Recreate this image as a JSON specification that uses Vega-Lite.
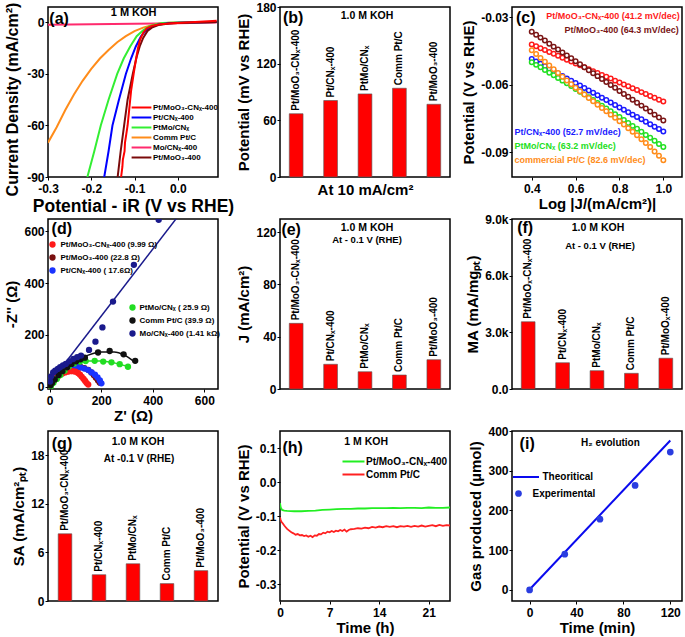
{
"$schema":"https://vega.github.io/schema/vega-lite/v6.json",
"padding":{"left":3,"top":0,"right":0,"bottom":0},
"columns":3,
"spacing":{"row":42,"column":62},
"bounds":"flush",
"resolve":{"scale":{"x":"independent","y":"independent","color":"independent","fill":"independent","stroke":"independent"},"legend":{"color":"independent","fill":"independent","stroke":"independent"}},
"config":{
 "font":"Liberation Sans",
 "locale":{"number":{"decimal":".","thousands":",","grouping":[3],"currency":["$",""],"minus":"-"}},
 "view":{"stroke":"#000","strokeWidth":1.5},
 "axis":{"domain":false,"grid":false,"labelFont":"Liberation Sans","labelFontWeight":"bold","labelFontSize":12,"labelColor":"#000","titleFont":"Liberation Sans","titleFontSize":15,"titleFontWeight":"bold","titleColor":"#000","tickColor":"#000","tickSize":3,"tickWidth":1,"labelPadding":1,"titlePadding":4,"labelFlush":false,"labelOverlap":false},
 "axisX":{"labelPadding":3},
 "legend":{"labelFont":"Liberation Sans","labelFontWeight":"bold","labelColor":"#000","padding":0,"titlePadding":0},
 "text":{"font":"Liberation Sans","fontWeight":"bold","color":"#000"}
},
"concat":[
{
 "width":170,"height":170,
 "layer":[
  {"data":{"values":[
   {"s":"Mo/CNₓ-400","v":-0.3,"j":-1.3},{"s":"Mo/CNₓ-400","v":-0.2,"j":-1.0},{"s":"Mo/CNₓ-400","v":-0.1,"j":-0.7},{"s":"Mo/CNₓ-400","v":0.0,"j":-0.4},{"s":"Mo/CNₓ-400","v":0.09,"j":0.0},
   {"s":"Comm Pt/C","v":-0.3,"j":-70},{"s":"Comm Pt/C","v":-0.28,"j":-61},{"s":"Comm Pt/C","v":-0.26,"j":-51},{"s":"Comm Pt/C","v":-0.24,"j":-42},{"s":"Comm Pt/C","v":-0.22,"j":-34},{"s":"Comm Pt/C","v":-0.2,"j":-27},{"s":"Comm Pt/C","v":-0.18,"j":-21},{"s":"Comm Pt/C","v":-0.16,"j":-16},{"s":"Comm Pt/C","v":-0.14,"j":-11.5},{"s":"Comm Pt/C","v":-0.12,"j":-8},{"s":"Comm Pt/C","v":-0.1,"j":-5},{"s":"Comm Pt/C","v":-0.08,"j":-3},{"s":"Comm Pt/C","v":-0.06,"j":-1.6},{"s":"Comm Pt/C","v":-0.04,"j":-0.6},{"s":"Comm Pt/C","v":-0.02,"j":-0.2},{"s":"Comm Pt/C","v":0.0,"j":0},{"s":"Comm Pt/C","v":0.09,"j":0.2},
   {"s":"PtMo/CNₓ","v":-0.209,"j":-90},{"s":"PtMo/CNₓ","v":-0.193,"j":-75},{"s":"PtMo/CNₓ","v":-0.178,"j":-60},{"s":"PtMo/CNₓ","v":-0.16,"j":-45},{"s":"PtMo/CNₓ","v":-0.14,"j":-30},{"s":"PtMo/CNₓ","v":-0.125,"j":-21},{"s":"PtMo/CNₓ","v":-0.11,"j":-14},{"s":"PtMo/CNₓ","v":-0.095,"j":-8},{"s":"PtMo/CNₓ","v":-0.08,"j":-4.5},{"s":"PtMo/CNₓ","v":-0.065,"j":-2.2},{"s":"PtMo/CNₓ","v":-0.05,"j":-1},{"s":"PtMo/CNₓ","v":-0.035,"j":-0.3},{"s":"PtMo/CNₓ","v":0.0,"j":0},{"s":"PtMo/CNₓ","v":0.09,"j":0.3},
   {"s":"Pt/CNₓ-400","v":-0.17,"j":-90},{"s":"Pt/CNₓ-400","v":-0.16,"j":-75},{"s":"Pt/CNₓ-400","v":-0.151,"j":-60},{"s":"Pt/CNₓ-400","v":-0.136,"j":-45},{"s":"Pt/CNₓ-400","v":-0.12,"j":-30},{"s":"Pt/CNₓ-400","v":-0.108,"j":-21},{"s":"Pt/CNₓ-400","v":-0.097,"j":-14},{"s":"Pt/CNₓ-400","v":-0.085,"j":-8},{"s":"Pt/CNₓ-400","v":-0.073,"j":-4.5},{"s":"Pt/CNₓ-400","v":-0.06,"j":-2.5},{"s":"Pt/CNₓ-400","v":-0.045,"j":-1.2},{"s":"Pt/CNₓ-400","v":-0.02,"j":-0.5},{"s":"Pt/CNₓ-400","v":0.0,"j":-0.2},{"s":"Pt/CNₓ-400","v":0.09,"j":0.3},
   {"s":"Pt/MoO₃-400","v":-0.139,"j":-90},{"s":"Pt/MoO₃-400","v":-0.132,"j":-75},{"s":"Pt/MoO₃-400","v":-0.124,"j":-60},{"s":"Pt/MoO₃-400","v":-0.116,"j":-45},{"s":"Pt/MoO₃-400","v":-0.104,"j":-30},{"s":"Pt/MoO₃-400","v":-0.095,"j":-20},{"s":"Pt/MoO₃-400","v":-0.088,"j":-14},{"s":"Pt/MoO₃-400","v":-0.08,"j":-9},{"s":"Pt/MoO₃-400","v":-0.07,"j":-5},{"s":"Pt/MoO₃-400","v":-0.06,"j":-3},{"s":"Pt/MoO₃-400","v":-0.045,"j":-1.5},{"s":"Pt/MoO₃-400","v":-0.02,"j":-0.6},{"s":"Pt/MoO₃-400","v":0.0,"j":-0.3},{"s":"Pt/MoO₃-400","v":0.09,"j":0.3},
   {"s":"Pt/MoO₃-CNₓ-400","v":-0.131,"j":-90},{"s":"Pt/MoO₃-CNₓ-400","v":-0.128,"j":-84},{"s":"Pt/MoO₃-CNₓ-400","v":-0.127,"j":-80},{"s":"Pt/MoO₃-CNₓ-400","v":-0.123,"j":-75},{"s":"Pt/MoO₃-CNₓ-400","v":-0.122,"j":-70},{"s":"Pt/MoO₃-CNₓ-400","v":-0.119,"j":-65},{"s":"Pt/MoO₃-CNₓ-400","v":-0.116,"j":-60},{"s":"Pt/MoO₃-CNₓ-400","v":-0.112,"j":-50},{"s":"Pt/MoO₃-CNₓ-400","v":-0.108,"j":-40},{"s":"Pt/MoO₃-CNₓ-400","v":-0.102,"j":-30},{"s":"Pt/MoO₃-CNₓ-400","v":-0.097,"j":-22},{"s":"Pt/MoO₃-CNₓ-400","v":-0.092,"j":-15},{"s":"Pt/MoO₃-CNₓ-400","v":-0.087,"j":-10},{"s":"Pt/MoO₃-CNₓ-400","v":-0.08,"j":-6},{"s":"Pt/MoO₃-CNₓ-400","v":-0.072,"j":-3.5},{"s":"Pt/MoO₃-CNₓ-400","v":-0.06,"j":-2},{"s":"Pt/MoO₃-CNₓ-400","v":-0.045,"j":-1.2},{"s":"Pt/MoO₃-CNₓ-400","v":-0.02,"j":-0.6},{"s":"Pt/MoO₃-CNₓ-400","v":0.0,"j":-0.3},{"s":"Pt/MoO₃-CNₓ-400","v":0.09,"j":1}
  ]},
  "mark":{"type":"line","strokeWidth":2,"clip":true},
  "encoding":{
   "x":{"field":"v","type":"quantitative","scale":{"domain":[-0.3,0.093],"nice":false,"zero":false},"axis":{"values":[-0.3,-0.2,-0.1,0],"format":".1f","title":"Potential - iR (V vs RHE)","titlePadding":3,"titleFontSize":17.5}},
   "y":{"field":"j","type":"quantitative","scale":{"domain":[-90,9],"nice":false,"zero":false},"axis":{"values":[0,-30,-60,-90],"title":"Current Density (mA/cm²)","titlePadding":6.5,"titleFontSize":16,"titleY":92}},
   "color":{"field":"s","type":"nominal","sort":null,"scale":{"domain":["Pt/MoO₃-CNₓ-400","Pt/CNₓ-400","PtMo/CNₓ","Comm Pt/C","Mo/CNₓ-400","Pt/MoO₃-400"],"range":["#ff0000","#0000ff","#33ee33","#ff8c1a","#ff2a6d","#7a0a0a"]},"legend":{"orient":"none","legendX":88,"legendY":95,"title":null,"symbolType":"M-2.2,0H2.2","symbolSize":81,"symbolStrokeWidth":2,"labelFontSize":8,"labelOffset":6,"rowPadding":0}}
  }},
  {"data":{"values":[{"label":"(a)"}]},"mark":{"type":"text","align":"left","baseline":"middle","fontSize":16},"encoding":{"x":{"datum":-0.297},"y":{"datum":2},"text":{"field":"label"}}},
  {"data":{"values":[{"label":"1 M KOH"}]},"mark":{"type":"text","align":"center","baseline":"middle","fontSize":11},"encoding":{"x":{"datum":-0.102},"y":{"datum":5.3},"text":{"field":"label"}}}
 ]
},
{
 "width":170,"height":170,
 "data":{"values":[{"cat":"Pt/MoO₃-CNₓ-400","v":67},{"cat":"Pt/CNₓ-400","v":81},{"cat":"PtMo/CNₓ","v":88},{"cat":"Comm Pt/C","v":94},{"cat":"Pt/MoO₃-400","v":77}]},
 "layer":[
  {"mark":{"type":"bar","color":"#ff0000","stroke":"#555","strokeWidth":0.6},
   "encoding":{"x":{"field":"cat","type":"nominal","sort":null,"scale":{"paddingInner":0.6,"paddingOuter":0.27},"axis":{"labels":false,"ticks":false,"title":"At 10 mA/cm²","titlePadding":5}},
   "y":{"field":"v","type":"quantitative","scale":{"domain":[0,180],"nice":false},"axis":{"values":[0,60,120,180],"title":"Potential (mV vs RHE)"}}}},
  {"mark":{"type":"text","angle":270,"align":"left","baseline":"middle","dx":3,"fontSize":10},
   "encoding":{"x":{"field":"cat","type":"nominal","sort":null},"y":{"field":"v","type":"quantitative"},"text":{"field":"cat"}}},
  {"data":{"values":[{"label":"(b)"}]},"mark":{"type":"text","align":"center","baseline":"middle","fontSize":16,"dx":-3},"encoding":{"x":{"datum":"Pt/MoO₃-CNₓ-400"},"y":{"datum":168},"text":{"field":"label"}}},
  {"data":{"values":[{"label":"1.0 M KOH"}]},"mark":{"type":"text","align":"center","baseline":"middle","fontSize":10.5,"dx":2},"encoding":{"x":{"datum":"PtMo/CNₓ"},"y":{"datum":170},"text":{"field":"label"}}}
 ]
},
{
 "width":170,"height":170,
 "layer":[
  {"data":{"values":[
   {"s":"Pt/MoO₃-CNₓ-400","x":0.40,"y":-0.0421},{"s":"Pt/MoO₃-CNₓ-400","x":0.42,"y":-0.0429},{"s":"Pt/MoO₃-CNₓ-400","x":0.44,"y":-0.0438},{"s":"Pt/MoO₃-CNₓ-400","x":0.46,"y":-0.0446},{"s":"Pt/MoO₃-CNₓ-400","x":0.48,"y":-0.0455},{"s":"Pt/MoO₃-CNₓ-400","x":0.50,"y":-0.0463},{"s":"Pt/MoO₃-CNₓ-400","x":0.52,"y":-0.0472},{"s":"Pt/MoO₃-CNₓ-400","x":0.54,"y":-0.0480},{"s":"Pt/MoO₃-CNₓ-400","x":0.56,"y":-0.0489},{"s":"Pt/MoO₃-CNₓ-400","x":0.58,"y":-0.0497},{"s":"Pt/MoO₃-CNₓ-400","x":0.60,"y":-0.0506},{"s":"Pt/MoO₃-CNₓ-400","x":0.62,"y":-0.0514},{"s":"Pt/MoO₃-CNₓ-400","x":0.64,"y":-0.0523},{"s":"Pt/MoO₃-CNₓ-400","x":0.66,"y":-0.0531},{"s":"Pt/MoO₃-CNₓ-400","x":0.68,"y":-0.0540},{"s":"Pt/MoO₃-CNₓ-400","x":0.70,"y":-0.0548},{"s":"Pt/MoO₃-CNₓ-400","x":0.72,"y":-0.0557},{"s":"Pt/MoO₃-CNₓ-400","x":0.74,"y":-0.0565},{"s":"Pt/MoO₃-CNₓ-400","x":0.76,"y":-0.0573},{"s":"Pt/MoO₃-CNₓ-400","x":0.78,"y":-0.0582},{"s":"Pt/MoO₃-CNₓ-400","x":0.80,"y":-0.0590},{"s":"Pt/MoO₃-CNₓ-400","x":0.82,"y":-0.0599},{"s":"Pt/MoO₃-CNₓ-400","x":0.84,"y":-0.0607},{"s":"Pt/MoO₃-CNₓ-400","x":0.86,"y":-0.0616},{"s":"Pt/MoO₃-CNₓ-400","x":0.88,"y":-0.0624},{"s":"Pt/MoO₃-CNₓ-400","x":0.90,"y":-0.0633},{"s":"Pt/MoO₃-CNₓ-400","x":0.92,"y":-0.0641},{"s":"Pt/MoO₃-CNₓ-400","x":0.94,"y":-0.0650},{"s":"Pt/MoO₃-CNₓ-400","x":0.96,"y":-0.0658},{"s":"Pt/MoO₃-CNₓ-400","x":0.98,"y":-0.0667},{"s":"Pt/MoO₃-CNₓ-400","x":1.00,"y":-0.0675},
   {"s":"Pt/MoO₃-400","x":0.40,"y":-0.0365},{"s":"Pt/MoO₃-400","x":0.42,"y":-0.0378},{"s":"Pt/MoO₃-400","x":0.44,"y":-0.0391},{"s":"Pt/MoO₃-400","x":0.46,"y":-0.0404},{"s":"Pt/MoO₃-400","x":0.48,"y":-0.0418},{"s":"Pt/MoO₃-400","x":0.50,"y":-0.0431},{"s":"Pt/MoO₃-400","x":0.52,"y":-0.0444},{"s":"Pt/MoO₃-400","x":0.54,"y":-0.0457},{"s":"Pt/MoO₃-400","x":0.56,"y":-0.0470},{"s":"Pt/MoO₃-400","x":0.58,"y":-0.0483},{"s":"Pt/MoO₃-400","x":0.60,"y":-0.0496},{"s":"Pt/MoO₃-400","x":0.62,"y":-0.0509},{"s":"Pt/MoO₃-400","x":0.64,"y":-0.0523},{"s":"Pt/MoO₃-400","x":0.66,"y":-0.0536},{"s":"Pt/MoO₃-400","x":0.68,"y":-0.0549},{"s":"Pt/MoO₃-400","x":0.70,"y":-0.0562},{"s":"Pt/MoO₃-400","x":0.72,"y":-0.0575},{"s":"Pt/MoO₃-400","x":0.74,"y":-0.0588},{"s":"Pt/MoO₃-400","x":0.76,"y":-0.0601},{"s":"Pt/MoO₃-400","x":0.78,"y":-0.0614},{"s":"Pt/MoO₃-400","x":0.80,"y":-0.0628},{"s":"Pt/MoO₃-400","x":0.82,"y":-0.0641},{"s":"Pt/MoO₃-400","x":0.84,"y":-0.0654},{"s":"Pt/MoO₃-400","x":0.86,"y":-0.0667},{"s":"Pt/MoO₃-400","x":0.88,"y":-0.0680},{"s":"Pt/MoO₃-400","x":0.90,"y":-0.0693},{"s":"Pt/MoO₃-400","x":0.92,"y":-0.0706},{"s":"Pt/MoO₃-400","x":0.94,"y":-0.0719},{"s":"Pt/MoO₃-400","x":0.96,"y":-0.0733},{"s":"Pt/MoO₃-400","x":0.98,"y":-0.0746},{"s":"Pt/MoO₃-400","x":1.00,"y":-0.0759},
   {"s":"Pt/CNₓ-400","x":0.40,"y":-0.0486},{"s":"Pt/CNₓ-400","x":0.42,"y":-0.0497},{"s":"Pt/CNₓ-400","x":0.44,"y":-0.0507},{"s":"Pt/CNₓ-400","x":0.46,"y":-0.0518},{"s":"Pt/CNₓ-400","x":0.48,"y":-0.0529},{"s":"Pt/CNₓ-400","x":0.50,"y":-0.0540},{"s":"Pt/CNₓ-400","x":0.52,"y":-0.0550},{"s":"Pt/CNₓ-400","x":0.54,"y":-0.0561},{"s":"Pt/CNₓ-400","x":0.56,"y":-0.0572},{"s":"Pt/CNₓ-400","x":0.58,"y":-0.0583},{"s":"Pt/CNₓ-400","x":0.60,"y":-0.0593},{"s":"Pt/CNₓ-400","x":0.62,"y":-0.0604},{"s":"Pt/CNₓ-400","x":0.64,"y":-0.0615},{"s":"Pt/CNₓ-400","x":0.66,"y":-0.0626},{"s":"Pt/CNₓ-400","x":0.68,"y":-0.0636},{"s":"Pt/CNₓ-400","x":0.70,"y":-0.0647},{"s":"Pt/CNₓ-400","x":0.72,"y":-0.0658},{"s":"Pt/CNₓ-400","x":0.74,"y":-0.0668},{"s":"Pt/CNₓ-400","x":0.76,"y":-0.0679},{"s":"Pt/CNₓ-400","x":0.78,"y":-0.0690},{"s":"Pt/CNₓ-400","x":0.80,"y":-0.0701},{"s":"Pt/CNₓ-400","x":0.82,"y":-0.0711},{"s":"Pt/CNₓ-400","x":0.84,"y":-0.0722},{"s":"Pt/CNₓ-400","x":0.86,"y":-0.0733},{"s":"Pt/CNₓ-400","x":0.88,"y":-0.0744},{"s":"Pt/CNₓ-400","x":0.90,"y":-0.0754},{"s":"Pt/CNₓ-400","x":0.92,"y":-0.0765},{"s":"Pt/CNₓ-400","x":0.94,"y":-0.0776},{"s":"Pt/CNₓ-400","x":0.96,"y":-0.0787},{"s":"Pt/CNₓ-400","x":0.98,"y":-0.0797},{"s":"Pt/CNₓ-400","x":1.00,"y":-0.0808},
   {"s":"PtMo/CNₓ","x":0.40,"y":-0.0500},{"s":"PtMo/CNₓ","x":0.42,"y":-0.0512},{"s":"PtMo/CNₓ","x":0.44,"y":-0.0523},{"s":"PtMo/CNₓ","x":0.46,"y":-0.0535},{"s":"PtMo/CNₓ","x":0.48,"y":-0.0547},{"s":"PtMo/CNₓ","x":0.50,"y":-0.0558},{"s":"PtMo/CNₓ","x":0.52,"y":-0.0570},{"s":"PtMo/CNₓ","x":0.54,"y":-0.0582},{"s":"PtMo/CNₓ","x":0.56,"y":-0.0594},{"s":"PtMo/CNₓ","x":0.58,"y":-0.0606},{"s":"PtMo/CNₓ","x":0.60,"y":-0.0619},{"s":"PtMo/CNₓ","x":0.62,"y":-0.0631},{"s":"PtMo/CNₓ","x":0.64,"y":-0.0643},{"s":"PtMo/CNₓ","x":0.66,"y":-0.0656},{"s":"PtMo/CNₓ","x":0.68,"y":-0.0668},{"s":"PtMo/CNₓ","x":0.70,"y":-0.0681},{"s":"PtMo/CNₓ","x":0.72,"y":-0.0693},{"s":"PtMo/CNₓ","x":0.74,"y":-0.0706},{"s":"PtMo/CNₓ","x":0.76,"y":-0.0718},{"s":"PtMo/CNₓ","x":0.78,"y":-0.0731},{"s":"PtMo/CNₓ","x":0.80,"y":-0.0744},{"s":"PtMo/CNₓ","x":0.82,"y":-0.0757},{"s":"PtMo/CNₓ","x":0.84,"y":-0.0770},{"s":"PtMo/CNₓ","x":0.86,"y":-0.0783},{"s":"PtMo/CNₓ","x":0.88,"y":-0.0796},{"s":"PtMo/CNₓ","x":0.90,"y":-0.0809},{"s":"PtMo/CNₓ","x":0.92,"y":-0.0823},{"s":"PtMo/CNₓ","x":0.94,"y":-0.0836},{"s":"PtMo/CNₓ","x":0.96,"y":-0.0849},{"s":"PtMo/CNₓ","x":0.98,"y":-0.0863},{"s":"PtMo/CNₓ","x":1.00,"y":-0.0877},
   {"s":"commercial Pt/C","x":0.40,"y":-0.0447},{"s":"commercial Pt/C","x":0.42,"y":-0.0464},{"s":"commercial Pt/C","x":0.44,"y":-0.0481},{"s":"commercial Pt/C","x":0.46,"y":-0.0498},{"s":"commercial Pt/C","x":0.48,"y":-0.0515},{"s":"commercial Pt/C","x":0.50,"y":-0.0531},{"s":"commercial Pt/C","x":0.52,"y":-0.0548},{"s":"commercial Pt/C","x":0.54,"y":-0.0565},{"s":"commercial Pt/C","x":0.56,"y":-0.0581},{"s":"commercial Pt/C","x":0.58,"y":-0.0598},{"s":"commercial Pt/C","x":0.60,"y":-0.0614},{"s":"commercial Pt/C","x":0.62,"y":-0.0629},{"s":"commercial Pt/C","x":0.64,"y":-0.0644},{"s":"commercial Pt/C","x":0.66,"y":-0.0659},{"s":"commercial Pt/C","x":0.68,"y":-0.0674},{"s":"commercial Pt/C","x":0.70,"y":-0.0689},{"s":"commercial Pt/C","x":0.72,"y":-0.0704},{"s":"commercial Pt/C","x":0.74,"y":-0.0718},{"s":"commercial Pt/C","x":0.76,"y":-0.0733},{"s":"commercial Pt/C","x":0.78,"y":-0.0747},{"s":"commercial Pt/C","x":0.80,"y":-0.0762},{"s":"commercial Pt/C","x":0.82,"y":-0.0777},{"s":"commercial Pt/C","x":0.84,"y":-0.0793},{"s":"commercial Pt/C","x":0.86,"y":-0.0809},{"s":"commercial Pt/C","x":0.88,"y":-0.0825},{"s":"commercial Pt/C","x":0.90,"y":-0.0842},{"s":"commercial Pt/C","x":0.92,"y":-0.0859},{"s":"commercial Pt/C","x":0.94,"y":-0.0877},{"s":"commercial Pt/C","x":0.96,"y":-0.0897},{"s":"commercial Pt/C","x":0.98,"y":-0.0916},{"s":"commercial Pt/C","x":1.00,"y":-0.0936}
  ]},
  "mark":{"type":"point","shape":"circle","filled":false,"fill":"#fff","fillOpacity":1,"size":20,"strokeWidth":1.5,"opacity":1,"clip":true},
  "encoding":{
   "x":{"field":"x","type":"quantitative","scale":{"domain":[0.31,1.085],"nice":false,"zero":false},"axis":{"values":[0.4,0.6,0.8,1.0],"format":".1f","title":"Log |J/(mA/cm²)|","titlePadding":2}},
   "y":{"field":"y","type":"quantitative","scale":{"domain":[-0.101,-0.0255],"nice":false,"zero":false},"axis":{"values":[-0.03,-0.06,-0.09],"format":".2f","title":"Potential (V vs RHE)"}},
   "color":{"field":"s","type":"nominal","sort":null,"scale":{"domain":["Pt/MoO₃-CNₓ-400","Pt/MoO₃-400","Pt/CNₓ-400","PtMo/CNₓ","commercial Pt/C"],"range":["#ff1a1a","#7a1515","#1a1aff","#22e022","#ff8c1a"]},"legend":null}
  }},
  {"data":{"values":[{"label":"(c)"}]},"mark":{"type":"text","align":"left","baseline":"middle","fontSize":16},"encoding":{"x":{"datum":0.328},"y":{"datum":-0.0304},"text":{"field":"label"}}},
  {"data":{"values":[{"label":"Pt/MoO₃-CNₓ-400 (41.2 mV/dec)"}]},"mark":{"type":"text","align":"right","baseline":"middle","fontSize":9,"color":"#ff1a1a"},"encoding":{"x":{"datum":1.075},"y":{"datum":-0.0293},"text":{"field":"label"}}},
  {"data":{"values":[{"label":"Pt/MoO₃-400 (64.3 mV/dec)"}]},"mark":{"type":"text","align":"right","baseline":"middle","fontSize":9,"color":"#7a1515"},"encoding":{"x":{"datum":1.07},"y":{"datum":-0.0355},"text":{"field":"label"}}},
  {"data":{"values":[{"label":"Pt/CNₓ-400 (52.7 mV/dec)"}]},"mark":{"type":"text","align":"left","baseline":"middle","fontSize":9,"color":"#1a1aff"},"encoding":{"x":{"datum":0.321},"y":{"datum":-0.081},"text":{"field":"label"}}},
  {"data":{"values":[{"label":"PtMo/CNₓ (63.2 mV/dec)"}]},"mark":{"type":"text","align":"left","baseline":"middle","fontSize":9,"color":"#22e022"},"encoding":{"x":{"datum":0.321},"y":{"datum":-0.0871},"text":{"field":"label"}}},
  {"data":{"values":[{"label":"commercial Pt/C (82.6 mV/dec)"}]},"mark":{"type":"text","align":"left","baseline":"middle","fontSize":9,"color":"#ff8c1a"},"encoding":{"x":{"datum":0.321},"y":{"datum":-0.0936},"text":{"field":"label"}}}
 ]
},
{
 "width":170,"height":170,
 "layer":[
  {"data":{"values":[
   {"s":"Mo/CNₓ-400 (1.41 kΩ)","zr":0,"zi":13},{"s":"Mo/CNₓ-400 (1.41 kΩ)","zr":510,"zi":674},
   {"s":"Comm Pt/C (39.9 Ω)","zr":0,"zi":0},{"s":"Comm Pt/C (39.9 Ω)","zr":50,"zi":60},{"s":"Comm Pt/C (39.9 Ω)","zr":100,"zi":98},{"s":"Comm Pt/C (39.9 Ω)","zr":150,"zi":122},{"s":"Comm Pt/C (39.9 Ω)","zr":200,"zi":134},{"s":"Comm Pt/C (39.9 Ω)","zr":250,"zi":134},{"s":"Comm Pt/C (39.9 Ω)","zr":290,"zi":122},{"s":"Comm Pt/C (39.9 Ω)","zr":330,"zi":95},
   {"s":"PtMo/CNₓ ( 25.9 Ω)","zr":0,"zi":0},{"s":"PtMo/CNₓ ( 25.9 Ω)","zr":50,"zi":55},{"s":"PtMo/CNₓ ( 25.9 Ω)","zr":100,"zi":88},{"s":"PtMo/CNₓ ( 25.9 Ω)","zr":150,"zi":99},{"s":"PtMo/CNₓ ( 25.9 Ω)","zr":200,"zi":99},{"s":"PtMo/CNₓ ( 25.9 Ω)","zr":250,"zi":92},{"s":"PtMo/CNₓ ( 25.9 Ω)","zr":300,"zi":79},
   {"s":"Pt/MoO₃-CNₓ-400 (9.99 Ω)","zr":0,"zi":0},{"s":"Pt/MoO₃-CNₓ-400 (9.99 Ω)","zr":40,"zi":45},{"s":"Pt/MoO₃-CNₓ-400 (9.99 Ω)","zr":85,"zi":60},{"s":"Pt/MoO₃-CNₓ-400 (9.99 Ω)","zr":118,"zi":46},{"s":"Pt/MoO₃-CNₓ-400 (9.99 Ω)","zr":150,"zi":8}
  ]},
  "mark":{"type":"line","strokeWidth":1.5,"interpolate":"monotone","clip":true},
  "encoding":{
   "x":{"field":"zr","type":"quantitative","scale":{"domain":[-6,653],"nice":false,"zero":false},"axis":{"values":[0,200,400,600],"title":"Z' (Ω)","titlePadding":2}},
   "y":{"field":"zi","type":"quantitative","scale":{"domain":[-9,648],"nice":false,"zero":false},"axis":{"values":[0,200,400,600],"title":"-Z'' (Ω)"}},
   "stroke":{"field":"s","type":"nominal","scale":{"domain":["Mo/CNₓ-400 (1.41 kΩ)","Comm Pt/C (39.9 Ω)","PtMo/CNₓ ( 25.9 Ω)","Pt/MoO₃-CNₓ-400 (9.99 Ω)"],"range":["#1a1a8c","#111111","#22dd22","#ff1a1a"]},"legend":null}
  }},
  {"data":{"values":[
   {"s":"Pt/MoO₃-400 (22.8 Ω)","zr":3,"zi":4},{"s":"Pt/MoO₃-400 (22.8 Ω)","zr":10,"zi":14},{"s":"Pt/MoO₃-400 (22.8 Ω)","zr":20,"zi":27},{"s":"Pt/MoO₃-400 (22.8 Ω)","zr":32,"zi":40},{"s":"Pt/MoO₃-400 (22.8 Ω)","zr":45,"zi":52},{"s":"Pt/MoO₃-400 (22.8 Ω)","zr":60,"zi":62},{"s":"Pt/MoO₃-400 (22.8 Ω)","zr":75,"zi":70},{"s":"Pt/MoO₃-400 (22.8 Ω)","zr":90,"zi":75},{"s":"Pt/MoO₃-400 (22.8 Ω)","zr":105,"zi":77},{"s":"Pt/MoO₃-400 (22.8 Ω)","zr":120,"zi":76},{"s":"Pt/MoO₃-400 (22.8 Ω)","zr":135,"zi":72},{"s":"Pt/MoO₃-400 (22.8 Ω)","zr":150,"zi":65},{"s":"Pt/MoO₃-400 (22.8 Ω)","zr":162,"zi":55},{"s":"Pt/MoO₃-400 (22.8 Ω)","zr":172,"zi":44},{"s":"Pt/MoO₃-400 (22.8 Ω)","zr":180,"zi":34},{"s":"Pt/MoO₃-400 (22.8 Ω)","zr":188,"zi":24},{"s":"Pt/MoO₃-400 (22.8 Ω)","zr":195,"zi":15},
   {"s":"Pt/CNₓ-400 ( 17.6Ω)","zr":2,"zi":4},{"s":"Pt/CNₓ-400 ( 17.6Ω)","zr":8,"zi":13},{"s":"Pt/CNₓ-400 ( 17.6Ω)","zr":18,"zi":26},{"s":"Pt/CNₓ-400 ( 17.6Ω)","zr":30,"zi":40},{"s":"Pt/CNₓ-400 ( 17.6Ω)","zr":45,"zi":55},{"s":"Pt/CNₓ-400 ( 17.6Ω)","zr":60,"zi":65},{"s":"Pt/CNₓ-400 ( 17.6Ω)","zr":75,"zi":72},{"s":"Pt/CNₓ-400 ( 17.6Ω)","zr":90,"zi":75},{"s":"Pt/CNₓ-400 ( 17.6Ω)","zr":105,"zi":76},{"s":"Pt/CNₓ-400 ( 17.6Ω)","zr":120,"zi":74},{"s":"Pt/CNₓ-400 ( 17.6Ω)","zr":135,"zi":70},{"s":"Pt/CNₓ-400 ( 17.6Ω)","zr":150,"zi":64},{"s":"Pt/CNₓ-400 ( 17.6Ω)","zr":163,"zi":55},{"s":"Pt/CNₓ-400 ( 17.6Ω)","zr":176,"zi":46},{"s":"Pt/CNₓ-400 ( 17.6Ω)","zr":186,"zi":36},{"s":"Pt/CNₓ-400 ( 17.6Ω)","zr":195,"zi":24},{"s":"Pt/CNₓ-400 ( 17.6Ω)","zr":201,"zi":13},
   {"s":"Pt/MoO₃-CNₓ-400 (9.99 Ω)","zr":2,"zi":3},{"s":"Pt/MoO₃-CNₓ-400 (9.99 Ω)","zr":6,"zi":10},{"s":"Pt/MoO₃-CNₓ-400 (9.99 Ω)","zr":12,"zi":18},{"s":"Pt/MoO₃-CNₓ-400 (9.99 Ω)","zr":20,"zi":27},{"s":"Pt/MoO₃-CNₓ-400 (9.99 Ω)","zr":30,"zi":37},{"s":"Pt/MoO₃-CNₓ-400 (9.99 Ω)","zr":40,"zi":45},{"s":"Pt/MoO₃-CNₓ-400 (9.99 Ω)","zr":50,"zi":51},{"s":"Pt/MoO₃-CNₓ-400 (9.99 Ω)","zr":60,"zi":55},{"s":"Pt/MoO₃-CNₓ-400 (9.99 Ω)","zr":70,"zi":58},{"s":"Pt/MoO₃-CNₓ-400 (9.99 Ω)","zr":80,"zi":60},{"s":"Pt/MoO₃-CNₓ-400 (9.99 Ω)","zr":90,"zi":60},{"s":"Pt/MoO₃-CNₓ-400 (9.99 Ω)","zr":100,"zi":58},{"s":"Pt/MoO₃-CNₓ-400 (9.99 Ω)","zr":110,"zi":53},{"s":"Pt/MoO₃-CNₓ-400 (9.99 Ω)","zr":118,"zi":46},{"s":"Pt/MoO₃-CNₓ-400 (9.99 Ω)","zr":125,"zi":38},{"s":"Pt/MoO₃-CNₓ-400 (9.99 Ω)","zr":132,"zi":30},{"s":"Pt/MoO₃-CNₓ-400 (9.99 Ω)","zr":138,"zi":22},{"s":"Pt/MoO₃-CNₓ-400 (9.99 Ω)","zr":144,"zi":14},{"s":"Pt/MoO₃-CNₓ-400 (9.99 Ω)","zr":150,"zi":8}
  ]},
  "mark":{"type":"point","shape":"circle","filled":true,"size":40,"opacity":1,"clip":true},
  "encoding":{
   "x":{"field":"zr","type":"quantitative"},
   "y":{"field":"zi","type":"quantitative"},
   "color":{"field":"s","type":"nominal","sort":null,"scale":{"domain":["Pt/MoO₃-CNₓ-400 (9.99 Ω)","Pt/MoO₃-400 (22.8 Ω)","Pt/CNₓ-400 ( 17.6Ω)"],"range":["#ff1a1a","#7a1010","#1a33ff"]},"legend":{"orient":"none","legendX":0.5,"legendY":21.5,"title":null,"symbolType":"circle","symbolSize":40,"labelFontSize":8,"labelOffset":4,"rowPadding":5}}
  }},
  {"data":{"values":[
   {"s":"PtMo/CNₓ ( 25.9 Ω)","zr":5,"zi":2},{"s":"PtMo/CNₓ ( 25.9 Ω)","zr":15,"zi":15},{"s":"PtMo/CNₓ ( 25.9 Ω)","zr":28,"zi":30},{"s":"PtMo/CNₓ ( 25.9 Ω)","zr":42,"zi":45},{"s":"PtMo/CNₓ ( 25.9 Ω)","zr":58,"zi":62},{"s":"PtMo/CNₓ ( 25.9 Ω)","zr":75,"zi":78},{"s":"PtMo/CNₓ ( 25.9 Ω)","zr":95,"zi":90},{"s":"PtMo/CNₓ ( 25.9 Ω)","zr":118,"zi":97},{"s":"PtMo/CNₓ ( 25.9 Ω)","zr":140,"zi":99},{"s":"PtMo/CNₓ ( 25.9 Ω)","zr":175,"zi":100},{"s":"PtMo/CNₓ ( 25.9 Ω)","zr":208,"zi":97},{"s":"PtMo/CNₓ ( 25.9 Ω)","zr":240,"zi":94},{"s":"PtMo/CNₓ ( 25.9 Ω)","zr":272,"zi":87},{"s":"PtMo/CNₓ ( 25.9 Ω)","zr":304,"zi":77},
   {"s":"Comm Pt/C (39.9 Ω)","zr":3,"zi":5},{"s":"Comm Pt/C (39.9 Ω)","zr":10,"zi":15},{"s":"Comm Pt/C (39.9 Ω)","zr":20,"zi":28},{"s":"Comm Pt/C (39.9 Ω)","zr":35,"zi":45},{"s":"Comm Pt/C (39.9 Ω)","zr":50,"zi":60},{"s":"Comm Pt/C (39.9 Ω)","zr":68,"zi":75},{"s":"Comm Pt/C (39.9 Ω)","zr":85,"zi":88},{"s":"Comm Pt/C (39.9 Ω)","zr":103,"zi":98},{"s":"Comm Pt/C (39.9 Ω)","zr":120,"zi":106},{"s":"Comm Pt/C (39.9 Ω)","zr":137,"zi":112},{"s":"Comm Pt/C (39.9 Ω)","zr":188,"zi":132},{"s":"Comm Pt/C (39.9 Ω)","zr":233,"zi":138},{"s":"Comm Pt/C (39.9 Ω)","zr":287,"zi":125},{"s":"Comm Pt/C (39.9 Ω)","zr":332,"zi":100},
   {"s":"Mo/CNₓ-400 (1.41 kΩ)","zr":2,"zi":20},{"s":"Mo/CNₓ-400 (1.41 kΩ)","zr":6,"zi":40},{"s":"Mo/CNₓ-400 (1.41 kΩ)","zr":14,"zi":55},{"s":"Mo/CNₓ-400 (1.41 kΩ)","zr":22,"zi":62},{"s":"Mo/CNₓ-400 (1.41 kΩ)","zr":32,"zi":69},{"s":"Mo/CNₓ-400 (1.41 kΩ)","zr":41,"zi":75},{"s":"Mo/CNₓ-400 (1.41 kΩ)","zr":52,"zi":82},{"s":"Mo/CNₓ-400 (1.41 kΩ)","zr":63,"zi":88},{"s":"Mo/CNₓ-400 (1.41 kΩ)","zr":77,"zi":98},{"s":"Mo/CNₓ-400 (1.41 kΩ)","zr":92,"zi":107},{"s":"Mo/CNₓ-400 (1.41 kΩ)","zr":107,"zi":114},{"s":"Mo/CNₓ-400 (1.41 kΩ)","zr":122,"zi":120},{"s":"Mo/CNₓ-400 (1.41 kΩ)","zr":153,"zi":142},{"s":"Mo/CNₓ-400 (1.41 kΩ)","zr":178,"zi":174},{"s":"Mo/CNₓ-400 (1.41 kΩ)","zr":205,"zi":229},{"s":"Mo/CNₓ-400 (1.41 kΩ)","zr":246,"zi":329},{"s":"Mo/CNₓ-400 (1.41 kΩ)","zr":327,"zi":471},{"s":"Mo/CNₓ-400 (1.41 kΩ)","zr":423,"zi":645}
  ]},
  "mark":{"type":"point","shape":"circle","filled":true,"size":40,"opacity":1,"strokeWidth":0,"clip":true},
  "encoding":{
   "x":{"field":"zr","type":"quantitative"},
   "y":{"field":"zi","type":"quantitative"},
   "fill":{"field":"s","type":"nominal","sort":null,"scale":{"domain":["PtMo/CNₓ ( 25.9 Ω)","Comm Pt/C (39.9 Ω)","Mo/CNₓ-400 (1.41 kΩ)"],"range":["#22dd22","#111111","#1a1a8c"]},"legend":{"orient":"none","legendX":80.5,"legendY":84.5,"title":null,"symbolType":"circle","symbolSize":40,"labelFontSize":8,"labelOffset":3,"rowPadding":5}}
  }},
  {"data":{"values":[{"label":"(d)"}]},"mark":{"type":"text","align":"left","baseline":"middle","fontSize":16},"encoding":{"x":{"datum":8},"y":{"datum":608},"text":{"field":"label"}}}
 ]
},
{
 "width":170,"height":170,
 "data":{"values":[{"cat":"Pt/MoO₃-CNₓ-400","v":50.2},{"cat":"Pt/CNₓ-400","v":18.9},{"cat":"PtMo/CNₓ","v":13.2},{"cat":"Comm Pt/C","v":10.7},{"cat":"Pt/MoO₃-400","v":22.4}]},
 "layer":[
  {"mark":{"type":"bar","color":"#ff0000","stroke":"#555","strokeWidth":0.6},
   "encoding":{"x":{"field":"cat","type":"nominal","sort":null,"scale":{"paddingInner":0.6,"paddingOuter":0.27},"axis":null},
   "y":{"field":"v","type":"quantitative","scale":{"domain":[0,130],"nice":false},"axis":{"values":[0,40,80,120],"title":"J (mA/cm²)"}}}},
  {"mark":{"type":"text","angle":270,"align":"left","baseline":"middle","dx":3,"fontSize":10},
   "encoding":{"x":{"field":"cat","type":"nominal","sort":null},"y":{"field":"v","type":"quantitative"},"text":{"field":"cat"}}},
  {"data":{"values":[{"label":"(e)"}]},"mark":{"type":"text","align":"center","baseline":"middle","fontSize":16,"dx":-5},"encoding":{"x":{"datum":"Pt/MoO₃-CNₓ-400"},"y":{"datum":121.5},"text":{"field":"label"}}},
  {"data":{"values":[{"label":"1.0 M KOH"}]},"mark":{"type":"text","align":"center","baseline":"middle","fontSize":10.5,"dx":2},"encoding":{"x":{"datum":"PtMo/CNₓ"},"y":{"datum":122.8},"text":{"field":"label"}}},
  {"data":{"values":[{"label":"At - 0.1 V (RHE)"}]},"mark":{"type":"text","align":"center","baseline":"middle","fontSize":9.5,"dx":2},"encoding":{"x":{"datum":"PtMo/CNₓ"},"y":{"datum":113.9},"text":{"field":"label"}}}
 ]
},
{
 "width":170,"height":170,
 "data":{"values":[{"cat":"Pt/MoOₓ-CNₓ-400","v":3560},{"cat":"Pt/CNₓ-400","v":1390},{"cat":"PtMo/CNₓ","v":970},{"cat":"Comm Pt/C","v":830},{"cat":"Pt/MoOₓ-400","v":1630}]},
 "layer":[
  {"mark":{"type":"bar","color":"#ff0000","stroke":"#555","strokeWidth":0.6},
   "encoding":{"x":{"field":"cat","type":"nominal","sort":null,"scale":{"paddingInner":0.6,"paddingOuter":0.27},"axis":null},
   "y":{"field":"v","type":"quantitative","scale":{"domain":[0,9000],"nice":false},"axis":{"values":[0,3000,6000,9000],"format":".2s","title":"MA (mA/mgₚₜ)"}}}},
  {"mark":{"type":"text","angle":270,"align":"left","baseline":"middle","dx":3,"fontSize":10},
   "encoding":{"x":{"field":"cat","type":"nominal","sort":null},"y":{"field":"v","type":"quantitative"},"text":{"field":"cat"}}},
  {"data":{"values":[{"label":"(f)"}]},"mark":{"type":"text","align":"center","baseline":"middle","fontSize":16,"dx":-3},"encoding":{"x":{"datum":"Pt/MoOₓ-CNₓ-400"},"y":{"datum":8512},"text":{"field":"label"}}},
  {"data":{"values":[{"label":"1.0 M KOH"}]},"mark":{"type":"text","align":"center","baseline":"middle","fontSize":10.5,"dx":1},"encoding":{"x":{"datum":"PtMo/CNₓ"},"y":{"datum":8512},"text":{"field":"label"}}},
  {"data":{"values":[{"label":"At - 0.1 V (RHE)"}]},"mark":{"type":"text","align":"center","baseline":"middle","fontSize":9.5,"dx":3},"encoding":{"x":{"datum":"PtMo/CNₓ"},"y":{"datum":7587},"text":{"field":"label"}}}
 ]
},
{
 "width":170,"height":170,
 "data":{"values":[{"cat":"Pt/MoO₃-CNₓ-400","v":8.3},{"cat":"Pt/CNₓ-400","v":3.25},{"cat":"PtMo/CNₓ","v":4.6},{"cat":"Comm Pt/C","v":2.15},{"cat":"Pt/MoO₃-400","v":3.75}]},
 "layer":[
  {"mark":{"type":"bar","color":"#ff0000","stroke":"#555","strokeWidth":0.6},
   "encoding":{"x":{"field":"cat","type":"nominal","sort":null,"scale":{"paddingInner":0.6,"paddingOuter":0.3},"axis":null},
   "y":{"field":"v","type":"quantitative","scale":{"domain":[0,21],"nice":false},"axis":{"values":[0,6,12,18],"title":"SA (mA/cm²ₚₜ)"}}}},
  {"mark":{"type":"text","angle":270,"align":"left","baseline":"middle","dx":3,"fontSize":10},
   "encoding":{"x":{"field":"cat","type":"nominal","sort":null},"y":{"field":"v","type":"quantitative"},"text":{"field":"cat"}}},
  {"data":{"values":[{"label":"(g)"}]},"mark":{"type":"text","align":"center","baseline":"middle","fontSize":16,"dx":-3},"encoding":{"x":{"datum":"Pt/MoO₃-CNₓ-400"},"y":{"datum":19.4},"text":{"field":"label"}}},
  {"data":{"values":[{"label":"1.0 M KOH"}]},"mark":{"type":"text","align":"center","baseline":"middle","fontSize":10.5,"dx":5},"encoding":{"x":{"datum":"PtMo/CNₓ"},"y":{"datum":19.7},"text":{"field":"label"}}},
  {"data":{"values":[{"label":"At -0.1 V (RHE)"}]},"mark":{"type":"text","align":"center","baseline":"middle","fontSize":10,"dx":6},"encoding":{"x":{"datum":"PtMo/CNₓ"},"y":{"datum":17.5},"text":{"field":"label"}}}
 ]
},
{
 "width":170,"height":170,
 "layer":[
  {"data":{"values":[
   {"s":"Comm Pt/C","t":0,"v":-0.104},{"s":"Comm Pt/C","t":0.1,"v":-0.112},{"s":"Comm Pt/C","t":0.2,"v":-0.117},{"s":"Comm Pt/C","t":0.4,"v":-0.122},{"s":"Comm Pt/C","t":0.6,"v":-0.128},{"s":"Comm Pt/C","t":0.8,"v":-0.133},{"s":"Comm Pt/C","t":1.0,"v":-0.138},{"s":"Comm Pt/C","t":1.3,"v":-0.143},{"s":"Comm Pt/C","t":1.6,"v":-0.148},{"s":"Comm Pt/C","t":1.9,"v":-0.151},{"s":"Comm Pt/C","t":2.2,"v":-0.155},{"s":"Comm Pt/C","t":2.5,"v":-0.153},{"s":"Comm Pt/C","t":2.8,"v":-0.157},{"s":"Comm Pt/C","t":3.1,"v":-0.156},{"s":"Comm Pt/C","t":3.4,"v":-0.159},{"s":"Comm Pt/C","t":3.7,"v":-0.157},{"s":"Comm Pt/C","t":4.0,"v":-0.161},{"s":"Comm Pt/C","t":4.3,"v":-0.158},{"s":"Comm Pt/C","t":4.6,"v":-0.162},{"s":"Comm Pt/C","t":4.9,"v":-0.157},{"s":"Comm Pt/C","t":5.2,"v":-0.158},{"s":"Comm Pt/C","t":5.5,"v":-0.153},{"s":"Comm Pt/C","t":5.8,"v":-0.154},{"s":"Comm Pt/C","t":6.1,"v":-0.149},{"s":"Comm Pt/C","t":6.4,"v":-0.151},{"s":"Comm Pt/C","t":6.7,"v":-0.146},{"s":"Comm Pt/C","t":7.0,"v":-0.148},{"s":"Comm Pt/C","t":7.3,"v":-0.144},{"s":"Comm Pt/C","t":7.6,"v":-0.147},{"s":"Comm Pt/C","t":7.9,"v":-0.143},{"s":"Comm Pt/C","t":8.2,"v":-0.145},{"s":"Comm Pt/C","t":8.5,"v":-0.141},{"s":"Comm Pt/C","t":8.8,"v":-0.144},{"s":"Comm Pt/C","t":9.1,"v":-0.140},{"s":"Comm Pt/C","t":9.4,"v":-0.146},{"s":"Comm Pt/C","t":9.7,"v":-0.141},{"s":"Comm Pt/C","t":10.0,"v":-0.139},{"s":"Comm Pt/C","t":10.5,"v":-0.138},{"s":"Comm Pt/C","t":11.0,"v":-0.136},{"s":"Comm Pt/C","t":11.5,"v":-0.137},{"s":"Comm Pt/C","t":12.0,"v":-0.134},{"s":"Comm Pt/C","t":12.5,"v":-0.136},{"s":"Comm Pt/C","t":13.0,"v":-0.132},{"s":"Comm Pt/C","t":13.5,"v":-0.134},{"s":"Comm Pt/C","t":14.0,"v":-0.131},{"s":"Comm Pt/C","t":14.5,"v":-0.133},{"s":"Comm Pt/C","t":15.0,"v":-0.130},{"s":"Comm Pt/C","t":15.5,"v":-0.132},{"s":"Comm Pt/C","t":16.0,"v":-0.130},{"s":"Comm Pt/C","t":16.5,"v":-0.133},{"s":"Comm Pt/C","t":17.0,"v":-0.130},{"s":"Comm Pt/C","t":17.5,"v":-0.131},{"s":"Comm Pt/C","t":18.0,"v":-0.129},{"s":"Comm Pt/C","t":18.5,"v":-0.132},{"s":"Comm Pt/C","t":19.0,"v":-0.129},{"s":"Comm Pt/C","t":19.5,"v":-0.131},{"s":"Comm Pt/C","t":20.0,"v":-0.128},{"s":"Comm Pt/C","t":20.5,"v":-0.131},{"s":"Comm Pt/C","t":21.0,"v":-0.129},{"s":"Comm Pt/C","t":21.5,"v":-0.127},{"s":"Comm Pt/C","t":22.0,"v":-0.130},{"s":"Comm Pt/C","t":22.5,"v":-0.126},{"s":"Comm Pt/C","t":23.0,"v":-0.129},{"s":"Comm Pt/C","t":23.5,"v":-0.127},{"s":"Comm Pt/C","t":24.0,"v":-0.128},
   {"s":"Pt/MoO₃-CNₓ-400","t":0,"v":-0.062},{"s":"Pt/MoO₃-CNₓ-400","t":0.1,"v":-0.075},{"s":"Pt/MoO₃-CNₓ-400","t":0.3,"v":-0.082},{"s":"Pt/MoO₃-CNₓ-400","t":0.6,"v":-0.084},{"s":"Pt/MoO₃-CNₓ-400","t":1,"v":-0.085},{"s":"Pt/MoO₃-CNₓ-400","t":2,"v":-0.086},{"s":"Pt/MoO₃-CNₓ-400","t":3,"v":-0.086},{"s":"Pt/MoO₃-CNₓ-400","t":4,"v":-0.085},{"s":"Pt/MoO₃-CNₓ-400","t":5,"v":-0.084},{"s":"Pt/MoO₃-CNₓ-400","t":6,"v":-0.082},{"s":"Pt/MoO₃-CNₓ-400","t":7,"v":-0.081},{"s":"Pt/MoO₃-CNₓ-400","t":8,"v":-0.080},{"s":"Pt/MoO₃-CNₓ-400","t":9,"v":-0.079},{"s":"Pt/MoO₃-CNₓ-400","t":10,"v":-0.079},{"s":"Pt/MoO₃-CNₓ-400","t":11,"v":-0.078},{"s":"Pt/MoO₃-CNₓ-400","t":12,"v":-0.078},{"s":"Pt/MoO₃-CNₓ-400","t":13,"v":-0.077},{"s":"Pt/MoO₃-CNₓ-400","t":14,"v":-0.077},{"s":"Pt/MoO₃-CNₓ-400","t":15,"v":-0.077},{"s":"Pt/MoO₃-CNₓ-400","t":16,"v":-0.076},{"s":"Pt/MoO₃-CNₓ-400","t":17,"v":-0.077},{"s":"Pt/MoO₃-CNₓ-400","t":18,"v":-0.076},{"s":"Pt/MoO₃-CNₓ-400","t":19,"v":-0.076},{"s":"Pt/MoO₃-CNₓ-400","t":20,"v":-0.077},{"s":"Pt/MoO₃-CNₓ-400","t":21,"v":-0.075},{"s":"Pt/MoO₃-CNₓ-400","t":22,"v":-0.076},{"s":"Pt/MoO₃-CNₓ-400","t":23,"v":-0.076},{"s":"Pt/MoO₃-CNₓ-400","t":24,"v":-0.075}
  ]},
  "mark":{"type":"line","strokeWidth":1.8,"clip":true},
  "encoding":{
   "x":{"field":"t","type":"quantitative","scale":{"domain":[0,24],"nice":false,"zero":false},"axis":{"values":[0,7,14,21],"title":"Time (h)","titlePadding":2}},
   "y":{"field":"v","type":"quantitative","scale":{"domain":[-0.35,0.15],"nice":false,"zero":false},"axis":{"values":[0.1,0,-0.1,-0.2,-0.3],"format":".1f","title":"Potential (V vs RHE)"}},
   "color":{"field":"s","type":"nominal","sort":null,"scale":{"domain":["Pt/MoO₃-CNₓ-400","Comm Pt/C"],"range":["#22ee22","#ff2020"]},"legend":{"orient":"none","legendX":67,"legendY":24,"title":null,"symbolType":"M-2,0H2","symbolSize":121,"symbolStrokeWidth":2,"labelFontSize":10,"labelOffset":6,"rowPadding":1}}
  }},
  {"data":{"values":[{"label":"(h)"}]},"mark":{"type":"text","align":"left","baseline":"middle","fontSize":16},"encoding":{"x":{"datum":0.35},"y":{"datum":0.1},"text":{"field":"label"}}},
  {"data":{"values":[{"label":"1 M KOH"}]},"mark":{"type":"text","align":"left","baseline":"middle","fontSize":10.5},"encoding":{"x":{"datum":9.07},"y":{"datum":0.118},"text":{"field":"label"}}}
 ]
},
{
 "width":170,"height":170,
 "data":{"values":[
  {"s":"Theoritical","t":0,"g":1},{"s":"Theoritical","t":120,"g":376},
  {"s":"Experimental","t":0,"g":0},{"s":"Experimental","t":30,"g":90},{"s":"Experimental","t":60,"g":178},{"s":"Experimental","t":90,"g":263},{"s":"Experimental","t":120,"g":347}
 ]},
 "layer":[
  {"transform":[{"filter":{"field":"s","equal":"Theoritical"}}],
   "mark":{"type":"line","strokeWidth":2,"clip":true},
   "encoding":{
    "x":{"field":"t","type":"quantitative","scale":{"domain":[-15,130],"nice":false,"zero":false},"axis":{"values":[0,40,80,120],"title":"Time (min)","titlePadding":2}},
    "y":{"field":"g","type":"quantitative","scale":{"domain":[-28,400],"nice":false,"zero":false},"axis":{"values":[0,100,200,300,400],"title":"Gas produced (µmol)"}},
    "stroke":{"field":"s","type":"nominal","scale":{"domain":["Theoritical"],"range":["#0a0aee"]},"legend":{"orient":"none","legendX":6.5,"legendY":38.5,"title":null,"symbolType":"M-2,0H2","symbolSize":169,"symbolStrokeWidth":2,"labelFontSize":10,"labelOffset":9}}
   }},
  {"transform":[{"filter":{"field":"s","equal":"Experimental"}}],
   "mark":{"type":"point","shape":"circle","filled":true,"size":45,"opacity":1,"clip":true},
   "encoding":{
    "x":{"field":"t","type":"quantitative"},
    "y":{"field":"g","type":"quantitative"},
    "fill":{"field":"s","type":"nominal","scale":{"domain":["Experimental"],"range":["#2a3de0"]},"legend":{"orient":"none","legendX":1.5,"legendY":57.5,"title":null,"symbolType":"circle","symbolSize":45,"labelFontSize":10,"labelOffset":9}}
   }},
  {"data":{"values":[{"label":"(i)"}]},"mark":{"type":"text","align":"left","baseline":"middle","fontSize":16},"encoding":{"x":{"datum":-8.5},"y":{"datum":367},"text":{"field":"label"}}},
  {"data":{"values":[{"label":"H₂ evolution"}]},"mark":{"type":"text","align":"left","baseline":"middle","fontSize":10},"encoding":{"x":{"datum":43.8},"y":{"datum":371},"text":{"field":"label"}}}
 ]
}
]
}
